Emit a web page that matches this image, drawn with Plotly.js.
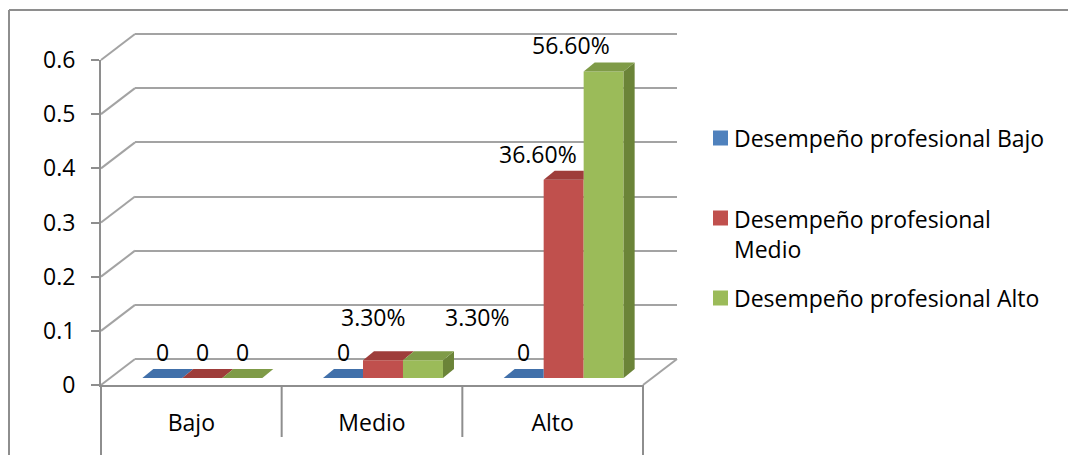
<!DOCTYPE html>
<html>
<head>
<meta charset="utf-8">
<script src="https://cdn.plot.ly/plotly-3.0.1.min.js"></script>
<style>html,body{margin:0;padding:0;background:#fff;}#chart{width:1069px;height:455px;}</style>
</head>
<body>
<div id="chart"></div>
<script>
// ---- data ----
const categories = ["Bajo", "Medio", "Alto"];
const seriesNames = ["Desempeño profesional Bajo", "Desempeño profesional Medio", "Desempeño profesional Alto"];
const serieBajo  = [0, 0, 0];
const serieMedio = [0, 0.033, 0.366];
const serieAlto  = [0, 0.033, 0.566];
const yTickVals = [0, 0.1, 0.2, 0.3, 0.4, 0.5, 0.6];

// ---- style / layout constants ----
const W = 1069, H = 455;
const FONT = "'Open Sans', 'Noto Sans', sans-serif";
const FS = 23;
const faceColors = ["#4F81BD", "#C0504D", "#9BBB59"];
const topColors  = ["#4170AA", "#9E3D3A", "#7F9B47"];
const sideColors = ["#3A6597", "#8E3734", "#6B8438"];
const gridColor = "#A3A3A3", axisColor = "#8E8E8E";
// plane geometry in pixels
const front = {x0: 101, x1: 643, y0: 385, y1: 60};
const backOff = {dx: 34, dy: -26};
const barOff = {dx: 11, dy: -7};
const depthPx = {dx: 11, dy: -9};
const barGap = 0.336;
// label offsets (pixels) [series][category]
const labelShift = [
  [[0, 26], [0, 26], [0, 26]],
  [[0, 26], [-10, 43], [-26, 26]],
  [[0, 26], [55, 43], [-33, 26]]
];
const legendRows = [138, 234, 298];

const fx = p => p / W;
const fy = p => 1 - p / H;
const yMax = 0.6;
const catW = (front.x1 - front.x0) / categories.length;
const pxPerVal = (front.y0 - front.y1) / yMax;
const yFront = v => front.y0 - v * pxPerVal;
const yBack = v => front.y0 + backOff.dy - v * pxPerVal;
const pad = 3; // extra px above top tick so the top gridline is kept

const series = [serieBajo, serieMedio, serieAlto];
const xIdx = categories.map((_, i) => i);
const bw = (1 - barGap) / series.length;
const ddx = depthPx.dx / catW;
const ddy = -depthPx.dy / pxPerVal;

const traces = [];
traces.push({type: "scatter", x: [0], y: [0], mode: "markers", marker: {opacity: 0}, xaxis: "x", yaxis: "y", showlegend: false, hoverinfo: "skip"});
traces.push({type: "scatter", x: [0], y: [0], mode: "markers", marker: {opacity: 0}, xaxis: "x2", yaxis: "y2", showlegend: false, hoverinfo: "skip"});
series.forEach((vals, s) => {
  traces.push({
    type: "bar", x: xIdx, y: vals, name: seriesNames[s],
    marker: {color: faceColors[s], line: {width: 0}},
    xaxis: "x3", yaxis: "y3", showlegend: false, hoverinfo: "y"
  });
});
xIdx.forEach((c, ci) => {
  series.forEach((vals, s) => {
    const v = vals[ci];
    const xl = c + (s - (series.length - 1) / 2) * bw - bw / 2;
    const xr = xl + bw;
    const next = s < series.length - 1 ? series[s + 1][ci] : null;
    if (v > 0 && (next === null || next < v)) {
      traces.push({
        type: "scatter", mode: "lines", fill: "toself",
        x: [xr, xr, xr + ddx, xr + ddx, xr], y: [0, v, v + ddy, ddy, 0],
        fillcolor: sideColors[s], line: {width: 0}, hoverinfo: "skip", showlegend: false,
        xaxis: "x3", yaxis: "y3"
      });
    }
    const tx = (next !== null && next > v) ? [xl, xr, xr, xl + ddx, xl] : [xl, xr, xr + ddx, xl + ddx, xl];
    const ty = [v, v, v + ddy, v + ddy, v];
    traces.push({
      type: "scatter", mode: "lines", fill: "toself", x: tx, y: ty,
      fillcolor: topColors[s], line: {width: 0}, hoverinfo: "skip", showlegend: false,
      xaxis: "x3", yaxis: "y3"
    });
  });
});

const fmt = v => v === 0 ? "0" : (v * 100).toFixed(2) + "%";
const annotations = [];
series.forEach((vals, s) => {
  vals.forEach((v, ci) => {
    const xc = xIdx[ci] + (s - (series.length - 1) / 2) * bw;
    annotations.push({
      xref: "x3", yref: "y3", x: xc, y: v, text: fmt(v), showarrow: false,
      xanchor: "center", yanchor: "middle",
      xshift: labelShift[s][ci][0], yshift: labelShift[s][ci][1],
      font: {family: FONT, size: FS, color: "#000"}
    });
  });
});
const wrapName = n => n.length > 26 ? n.replace(/ (\S+)$/, "<br>$1") : n;
const shapes = [];
seriesNames.forEach((n, s) => {
  const isWrapped = wrapName(n) !== n;
  const ym = legendRows[s];
  const ySq = isWrapped ? ym - 16 : ym;
  shapes.push({type: "rect", xref: "paper", yref: "paper",
    x0: fx(713), x1: fx(728), y0: fy(ySq - 7.5), y1: fy(ySq + 7.5),
    fillcolor: faceColors[s], line: {width: 0}});
  annotations.push({xref: "paper", yref: "paper", x: fx(732), y: fy(ym), text: wrapName(n),
    showarrow: false, xanchor: "left", yanchor: "middle", align: "left",
    font: {family: FONT, size: FS, color: "#000"}});
});
const line = (x0, y0, x1, y1, color) => ({type: "line", xref: "paper", yref: "paper", layer: "below",
  x0: fx(x0), y0: fy(y0), x1: fx(x1), y1: fy(y1), line: {color: color, width: 2}});
shapes.push(line(9, 10, 1068, 10, axisColor));
shapes.push(line(9, 10, 9, 456, axisColor));
yTickVals.forEach(v => shapes.push(line(front.x0, yFront(v), front.x0 + backOff.dx, yBack(v), gridColor)));
shapes.push(line(front.x1, front.y0, front.x1 + backOff.dx, front.y0 + backOff.dy, gridColor));
shapes.push(line(front.x0, front.y0, front.x0, 456, axisColor));
for (let k = 1; k < categories.length; k++) {
  const xp = front.x0 + k * catW;
  shapes.push(line(xp, front.y0, xp, 437, axisColor));
}
shapes.push(line(front.x1, front.y0, front.x1, 456, axisColor));

const layout = {
  width: W, height: H, margin: {l: 0, r: 0, t: 0, b: 0},
  paper_bgcolor: "#fff", plot_bgcolor: "rgba(0,0,0,0)",
  showlegend: false, barmode: "group", bargap: barGap, bargroupgap: 0,
  font: {family: FONT, size: FS, color: "#000"},
  xaxis: {domain: [fx(front.x0 + backOff.dx), fx(front.x1 + backOff.dx)], range: [-0.5, 2.5], visible: false, anchor: "y", fixedrange: true},
  yaxis: {domain: [fy(front.y0 + backOff.dy), fy(front.y1 + backOff.dy - pad)], range: [0, yMax + pad / pxPerVal], anchor: "x",
    tickvals: yTickVals, showticklabels: false, ticks: "", showgrid: true, gridcolor: gridColor, gridwidth: 2,
    zeroline: true, zerolinecolor: gridColor, zerolinewidth: 2, showline: false, fixedrange: true},
  xaxis2: {domain: [fx(front.x0), fx(front.x1)], range: [-0.5, 2.5], anchor: "y2",
    tickvals: xIdx, ticktext: categories, ticks: "", ticklabelstandoff: 16,
    showline: true, linecolor: axisColor, linewidth: 2, showgrid: false, zeroline: false, fixedrange: true,
    tickfont: {family: FONT, size: FS, color: "#000"}},
  yaxis2: {domain: [fy(front.y0), fy(front.y1)], range: [0, yMax], anchor: "x2",
    tickvals: yTickVals, ticktext: yTickVals.map(v => String(v)), ticks: "outside", ticklen: 8, tickwidth: 2, tickcolor: axisColor,
    ticklabelstandoff: 11,
    showline: true, linecolor: axisColor, linewidth: 2, showgrid: false, zeroline: false, fixedrange: true,
    tickfont: {family: FONT, size: FS, color: "#000"}},
  xaxis3: {domain: [fx(front.x0 + barOff.dx), fx(front.x1 + barOff.dx)], range: [-0.5, 2.5], visible: false, anchor: "y3", fixedrange: true},
  yaxis3: {domain: [fy(front.y0 + barOff.dy), fy(front.y1 + barOff.dy)], range: [0, yMax], visible: false, anchor: "x3", fixedrange: true},
  shapes: shapes, annotations: annotations
};
Plotly.newPlot("chart", traces, layout, {displayModeBar: false, staticPlot: true});
</script>
</body>
</html>
